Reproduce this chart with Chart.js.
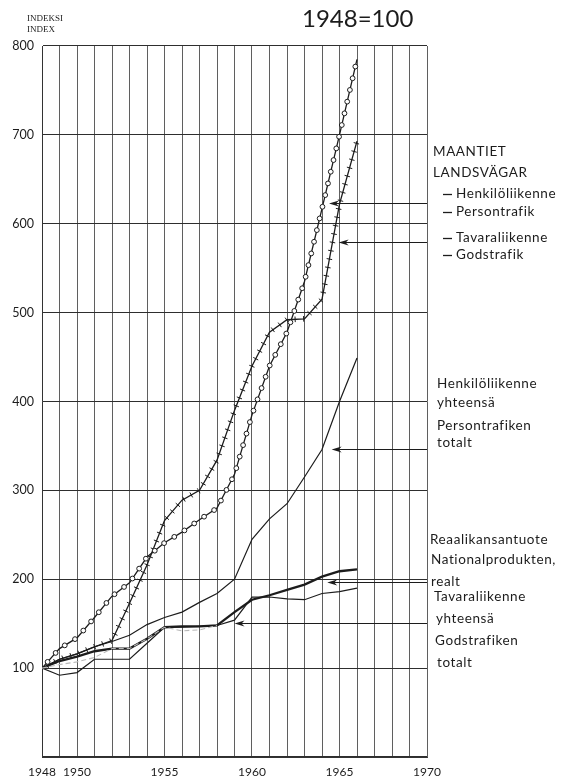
<!DOCTYPE html>
<html>
<head>
<meta charset="utf-8">
<script src="https://cdn.jsdelivr.net/npm/chart.js@4.4.0/dist/chart.umd.min.js"></script>
<style>
    html, body { margin: 0; padding: 0; background: #fff; }
    #wrap { width: 561px; height: 777px; }
</style>
</head>
<body>
<div id="wrap"><canvas id="trafficChart" width="561" height="777"></canvas></div>
<script>
// Index series, 1948 = 100
const years = [1948, 1949, 1950, 1951, 1952, 1953, 1954, 1955, 1956, 1957, 1958, 1959, 1960, 1961, 1962, 1963, 1964, 1965, 1966];
const roadPassenger = [100, 122, 134, 157, 181, 196, 225, 241, 253, 267, 280, 318, 385, 440, 478, 535, 617, 700, 785];
const roadGoods = [100, 110, 116, 124, 131, 173, 216, 266, 289, 300, 334, 390, 440, 478, 492, 493, 515, 622, 693];
const passengerTotal = [100, 110, 116, 124, 130, 137, 149, 157, 163, 174, 184, 200, 245, 268, 285, 315, 346, 400, 449];
const nationalProduct = [100, 108, 113, 119, 122, 122, 133, 146, 147, 147, 148, 163, 177, 182, 188, 194, 203, 209, 211];
const goodsTotal = [100, 92, 95, 110, 110, 110, 128, 146, 146, 147, 148, 154, 180, 180, 178, 177, 184, 186, 190];
const goodsTrace = [100, 104, 107, 112, 122, 122, 133, 146, 142, 143, 148, null, null, null, null, null, null, null, null];

const labelledYears = [1948, 1950, 1955, 1960, 1965, 1970];

// arrows: [index value, year at the arrow tip]
const arrows = [
    [623, 1964.4],
    [580, 1964.95],
    [346, 1964.55],
    [197, 1964.3],
    [151, 1959.0]
];

const ink = '#1c1c1c';
const sideFont = '13.5px Lato';

const sideLabels = [
    { text: 'MAANTIET', x: 433, y: 152 },
    { text: 'LANDSVÄGAR', x: 433, y: 173 },
    { text: 'Henkilöliikenne', x: 456, y: 194, dash: true },
    { text: 'Persontrafik', x: 456, y: 212, dash: true },
    { text: 'Tavaraliikenne', x: 456, y: 238, dash: true },
    { text: 'Godstrafik', x: 456, y: 255, dash: true },
    { text: 'Henkilöliikenne', x: 437, y: 384 },
    { text: 'yhteensä', x: 437, y: 403 },
    { text: 'Persontrafiken', x: 437, y: 426 },
    { text: 'totalt', x: 437, y: 443 },
    { text: 'Reaalikansantuote', x: 430, y: 540 },
    { text: 'Nationalprodukten,', x: 431, y: 560 },
    { text: 'realt', x: 431, y: 582 },
    { text: 'Tavaraliikenne', x: 434, y: 597 },
    { text: 'yhteensä', x: 436, y: 619 },
    { text: 'Godstrafiken', x: 435, y: 641 },
    { text: 'totalt', x: 437, y: 663 }
];

const toPoints = (values) => years.map((yr, i) => ({ x: yr, y: values[i] }));

// step along a polyline and call draw() every `spacing` pixels
const walkPath = (pts, spacing, start, draw) => {
    let carry = start;
    for (let i = 0; i < pts.length - 1; i++) {
        const p0 = pts[i], p1 = pts[i + 1];
        const dx = p1.x - p0.x, dy = p1.y - p0.y;
        const len = Math.hypot(dx, dy);
        if (len === 0) continue;
        let d = carry;
        while (d <= len) {
            draw(p0.x + dx * d / len, p0.y + dy * d / len, dx / len, dy / len);
            d += spacing;
        }
        carry = d - len;
    }
};

const pathMarkers = {
    id: 'pathMarkers',
    afterDatasetsDraw(chart) {
        const ctx = chart.ctx;
        chart.data.datasets.forEach((ds, i) => {
            if (!ds.markerKind) return;
            const pts = chart.getDatasetMeta(i).data
                .filter(p => !p.skip)
                .map(p => ({ x: p.x, y: p.y }));
            ctx.save();
            ctx.strokeStyle = ink;
            ctx.fillStyle = '#fff';
            ctx.lineWidth = 1;
            walkPath(pts, ds.markerSpacing, ds.markerSpacing * 0.7, (x, y, ux, uy) => {
                ctx.beginPath();
                if (ds.markerKind === 'circle') {
                    ctx.arc(x, y, 2.4, 0, Math.PI * 2);
                    ctx.fill();
                } else {
                    ctx.moveTo(x - uy * 2.8, y + ux * 2.8);
                    ctx.lineTo(x + uy * 2.8, y - ux * 2.8);
                }
                ctx.stroke();
            });
            ctx.restore();
        });
    }
};

const annotations = {
    id: 'annotations',
    afterDraw(chart) {
        const { ctx, chartArea } = chart;
        const xs = chart.scales.x, ys = chart.scales.y;
        ctx.save();
        ctx.fillStyle = ink;
        ctx.strokeStyle = ink;
        ctx.textBaseline = 'middle';
        ctx.textAlign = 'left';

        ctx.font = '9px "Liberation Serif"';
        ctx.fillText('INDEKSI', 27, 18.5);
        ctx.fillText('INDEX', 27, 30);

        ctx.font = '24px Lato';
        ctx.fillText('1948=100', 302, 19);

        ctx.font = sideFont;
        ctx.letterSpacing = '0.6px';
        sideLabels.forEach(l => {
            ctx.fillText(l.text, l.x, l.y);
            if (l.dash) {
                ctx.lineWidth = 1.3;
                ctx.beginPath();
                ctx.moveTo(443, l.y + 0.5);
                ctx.lineTo(452, l.y + 0.5);
                ctx.stroke();
            }
        });

        ctx.lineWidth = 1;
        arrows.forEach(([value, tipYear]) => {
            const py = Math.round(ys.getPixelForValue(value)) + 0.5;
            const tip = xs.getPixelForValue(tipYear);
            ctx.beginPath();
            ctx.moveTo(chartArea.right, py);
            ctx.lineTo(tip + 6, py);
            ctx.stroke();
            ctx.beginPath();
            ctx.moveTo(tip, py);
            ctx.lineTo(tip + 10, py - 3);
            ctx.lineTo(tip + 7, py);
            ctx.lineTo(tip + 10, py + 3);
            ctx.closePath();
            ctx.fill();
        });
        ctx.restore();
    }
};

const lineSet = (values, width, extra) => Object.assign({
    data: toPoints(values),
    borderColor: ink,
    borderWidth: width,
    pointRadius: 0,
    tension: 0,
    fill: false
}, extra || {});

const ctx = document.getElementById('trafficChart').getContext('2d');
const trafficChart = new Chart(ctx, {
    type: 'line',
    data: {
        datasets: [
            lineSet(goodsTrace, 1.1, { borderColor: '#b8b8b8', borderDash: [5, 3] }),
            lineSet(goodsTotal, 1.2),
            lineSet(passengerTotal, 1.2),
            lineSet(nationalProduct, 2.3),
            lineSet(roadGoods, 1.3, { markerKind: 'tick', markerSpacing: 8.5 }),
            lineSet(roadPassenger, 1.3, { markerKind: 'circle', markerSpacing: 12 })
        ]
    },
    options: {
        responsive: false,
        animation: false,
        devicePixelRatio: 1,
        layout: { padding: { left: 0, top: 46, right: 134, bottom: 0 } },
        plugins: {
            legend: { display: false },
            tooltip: { enabled: false }
        },
        scales: {
            x: {
                type: 'linear',
                min: 1948,
                max: 1970,
                afterFit: (scale) => { scale.height = 20; },
                grid: { color: '#4d4d4d', lineWidth: 0.9, drawTicks: false },
                border: { color: '#333', width: 1 },
                ticks: {
                    stepSize: 1,
                    autoSkip: false,
                    maxRotation: 0,
                    padding: 8,
                    color: ink,
                    font: { family: 'Lato', size: 12 },
                    callback: (v) => labelledYears.includes(v) ? String(v) : ''
                }
            },
            y: {
                min: 0,
                max: 800,
                afterFit: (scale) => { scale.width = 42; },
                grid: { color: '#2e2e2e', lineWidth: 1.1, drawTicks: false },
                border: { color: '#333', width: 1 },
                ticks: {
                    stepSize: 100,
                    padding: 8,
                    color: ink,
                    font: { family: 'Lato', size: 12.5 },
                    callback: (v) => v === 0 ? '' : String(v)
                }
            }
        }
    },
    plugins: [pathMarkers, annotations]
});
</script>
</body>
</html>
